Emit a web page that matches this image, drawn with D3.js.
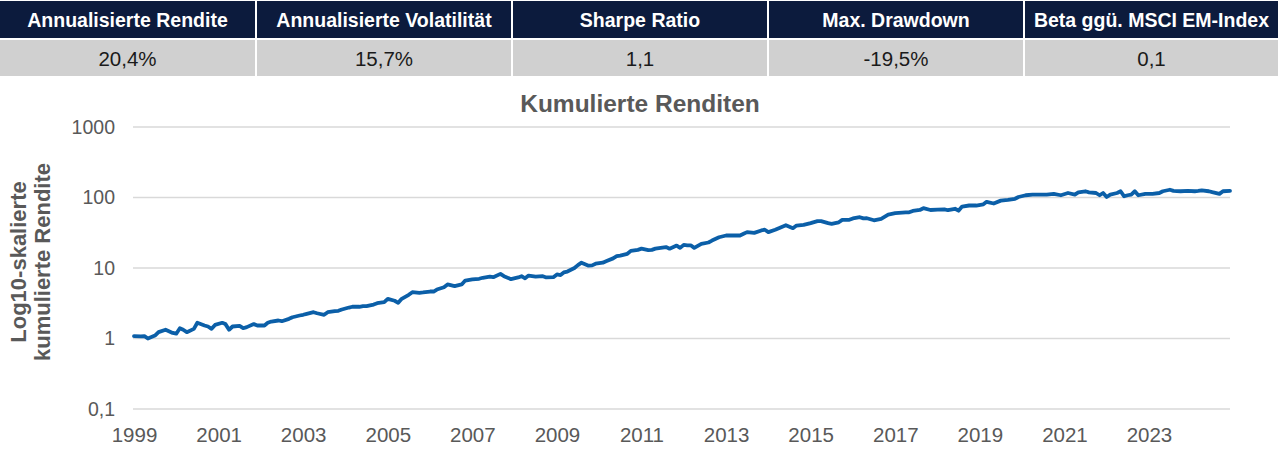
<!DOCTYPE html>
<html><head><meta charset="utf-8">
<script src="https://cdn.jsdelivr.net/npm/d3@7"></script>
<style>
html,body{margin:0;padding:0;background:#fff;}
svg{display:block;font-family:"Liberation Sans",Arial,sans-serif;}
</style></head>
<body>
<svg id="c" width="1280" height="450"></svg>
<script>
const statHeaders = ["Annualisierte Rendite","Annualisierte Volatilität","Sharpe Ratio","Max. Drawdown","Beta ggü. MSCI EM-Index"];
const statValues = ["20,4%","15,7%","1,1","-19,5%","0,1"];
const chartTitle = "Kumulierte Renditen";
const yTitle = ["Log10-skalierte","kumulierte Rendite"];
const yTicks = [0.1,1,10,100,1000];
const xTickYears = [1999,2001,2003,2005,2007,2009,2011,2013,2015,2017,2019,2021,2023];
const dates = ["1999-01","1999-03","1999-04","1999-05","1999-07","1999-08","1999-10","1999-12",
"2000-01","2000-02","2000-03","2000-04","2000-06","2000-07","2000-09","2000-10","2000-11","2000-12",
"2001-02","2001-03","2001-04","2001-05","2001-07","2001-08","2001-09","2001-11","2001-12",
"2002-02","2002-03","2002-04","2002-06","2002-07","2002-09","2002-10","2002-12",
"2003-01","2003-02","2003-04","2003-05","2003-07","2003-08","2003-10","2003-11","2003-12",
"2004-02","2004-03","2004-05","2004-06","2004-07","2004-09","2004-10","2004-12",
"2005-01","2005-03","2005-04","2005-05","2005-07","2005-08","2005-10","2005-11",
"2006-01","2006-02","2006-03","2006-05","2006-06","2006-08","2006-10","2006-11",
"2007-01","2007-03","2007-04","2007-06","2007-07","2007-09","2007-10","2007-12",
"2008-02","2008-03","2008-04","2008-05","2008-07","2008-09","2008-10","2008-12",
"2009-01","2009-02","2009-03","2009-04","2009-06","2009-07","2009-08","2009-10","2009-11","2009-12",
"2010-02","2010-03","2010-05","2010-06","2010-07","2010-09","2010-10","2010-12",
"2011-01","2011-03","2011-04","2011-05","2011-07","2011-08","2011-09","2011-11","2011-12",
"2012-01","2012-02","2012-03","2012-04","2012-06","2012-08","2012-09","2012-11",
"2013-01","2013-03","2013-05","2013-06","2013-07","2013-09","2013-11","2013-12",
"2014-01","2014-03","2014-04","2014-06","2014-08","2014-09","2014-11",
"2015-01","2015-03","2015-04","2015-06","2015-07","2015-09","2015-10","2015-12",
"2016-01","2016-03","2016-04","2016-05","2016-07","2016-09","2016-11",
"2017-01","2017-02","2017-04","2017-05","2017-06","2017-08","2017-09","2017-11",
"2018-01","2018-03","2018-04","2018-06","2018-07","2018-08","2018-10","2018-12",
"2019-02","2019-03","2019-05","2019-07","2019-09","2019-11","2019-12",
"2020-02","2020-04","2020-06","2020-08","2020-10","2020-12",
"2021-02","2021-04","2021-05","2021-07","2021-08","2021-10","2021-11","2021-12",
"2022-01","2022-02","2022-04","2022-05","2022-06","2022-07","2022-08","2022-09","2022-10","2022-12",
"2023-02","2023-04","2023-05","2023-07","2023-08","2023-10","2023-12",
"2024-02","2024-03","2024-04","2024-06","2024-07","2024-09","2024-10","2024-12"];
const cumReturn = [1.08,1.07,1.08,1.0,1.10,1.23,1.33,1.20,
1.17,1.40,1.33,1.23,1.37,1.67,1.53,1.48,1.37,1.56,
1.67,1.60,1.33,1.48,1.51,1.40,1.45,1.60,1.53,
1.53,1.67,1.74,1.80,1.76,1.90,2.0,2.12,
2.17,2.24,2.36,2.28,2.17,2.36,2.44,2.47,2.58,
2.75,2.82,2.82,2.88,2.88,3.03,3.17,3.27,
3.65,3.43,3.21,3.65,4.17,4.54,4.45,4.5,
4.64,4.64,4.95,5.34,5.84,5.52,5.84,6.64,
6.88,7.03,7.27,7.55,7.4,8.25,7.66,6.95,
7.35,7.66,7.15,7.8,7.55,7.66,7.35,7.4,
8.1,7.95,8.65,8.9,10.0,11.0,11.9,10.8,10.9,11.5,
11.9,12.5,13.7,14.7,15.0,15.9,17.5,18.1,
18.8,17.9,18.1,18.8,19.5,19.8,18.8,20.8,19.3,
21.3,21.0,21.0,19.3,22,23,24.5,27.3,
28.9,28.9,28.9,30.6,32.3,31.5,34.1,34.9,
32.3,34.9,36.7,40.4,36.7,40,40.9,
43.3,46.2,46.2,43.3,42.3,44.5,48.2,48.2,
50.5,52.6,50.5,50.8,47.5,49.9,57.3,
60,60.7,61.6,61.6,64.5,66.5,70.5,66.5,
67.5,68,66,69.2,65,74.3,77,77,
80,86.9,82.2,90.3,92.6,95.9,101.6,
107.6,110,110,110,112.6,107.6,
115.8,110,118.5,122.6,118.5,115.8,107.6,115.8,
101.6,110,115.8,122.6,104,107.6,110,122.6,107.6,112.6,
112.6,115.8,122.6,128.8,124,122.6,124,
122.6,124,126,122.6,119,112.6,122.6,124];

const svg = d3.select("#c");
const font = "'Liberation Sans', Arial, sans-serif";

// ---- stats table ----
const tx = d3.scaleBand().domain(statHeaders).range([0,1280]).paddingInner(0);
statHeaders.forEach((h,i)=>{
  const x0 = tx(h) + (i===0?0:1), w = tx.bandwidth() - (i===0?1:(i===4?3:2));
  svg.append("rect").attr("x",x0).attr("y",1).attr("width",w).attr("height",37).attr("fill","#0c1b3d");
  svg.append("rect").attr("x",x0).attr("y",40).attr("width",w).attr("height",36).attr("fill","#d0d0d0");
  svg.append("text").attr("x",x0+w/2).attr("y",26.5).attr("text-anchor","middle")
    .attr("fill","#fff").attr("font-weight","bold").attr("font-size",19.5).text(h);
  svg.append("text").attr("x",x0+w/2).attr("y",65.5).attr("text-anchor","middle")
    .attr("fill","#1a1a1a").attr("font-size",20.5).text(statValues[i]);
});

// ---- chart ----
const parse = d3.timeParse("%Y-%m");
const data = dates.map((d,i)=>({date:parse(d), v:cumReturn[i]}));
const x = d3.scaleTime().domain([parse("1999-01"), parse("2024-12")]).range([134,1230]);
const y = d3.scaleLog().domain([0.1,1000]).range([409,127]);

svg.append("text").attr("x",640).attr("y",112).attr("text-anchor","middle")
  .attr("fill","#595959").attr("font-weight","bold").attr("font-size",24.5).text(chartTitle);

// gridlines
svg.append("g").selectAll("line").data(yTicks).join("line")
  .attr("x1",133).attr("x2",1230).attr("y1",d=>y(d)).attr("y2",d=>y(d))
  .attr("stroke","#d9d9d9").attr("stroke-width",1.5);

// y axis
const loc = d3.formatLocale({decimal:",",thousands:".",grouping:[3],currency:["","€"]});
const yAxis = d3.axisLeft(y).tickValues(yTicks).tickSize(0).tickPadding(0)
  .tickFormat(d => d < 1 ? loc.format(".1f")(d) : loc.format("d")(d));
const gy = svg.append("g").attr("transform","translate(115,0)").call(yAxis);
gy.select(".domain").remove();
gy.selectAll("text").attr("fill","#595959").attr("font-size",19.5).attr("font-family",font);

// x axis
const xAxis = d3.axisBottom(x).tickValues(xTickYears.map(yr=>new Date(yr,0,1)))
  .tickSize(0).tickPadding(0).tickFormat(d3.timeFormat("%Y"));
const gx = svg.append("g").attr("transform","translate(0,427)").call(xAxis);
gx.select(".domain").remove();
gx.selectAll("text").attr("fill","#595959").attr("font-size",20.5).attr("font-family",font);

// y title
const yt = svg.append("text").attr("transform","translate(30,262) rotate(-90)")
  .attr("text-anchor","middle").attr("fill","#595959").attr("font-weight","bold").attr("font-size",22);
yt.append("tspan").attr("x",0).attr("dy",-4).text(yTitle[0]);
yt.append("tspan").attr("x",0).attr("dy",24).text(yTitle[1]);

// line
svg.append("path").datum(data)
  .attr("d", d3.line().x(d=>x(d.date)).y(d=>y(d.v)))
  .attr("fill","none").attr("stroke","#0b5fa8").attr("stroke-width",3.8)
  .attr("stroke-linejoin","round").attr("stroke-linecap","round");
</script>
</body></html>
